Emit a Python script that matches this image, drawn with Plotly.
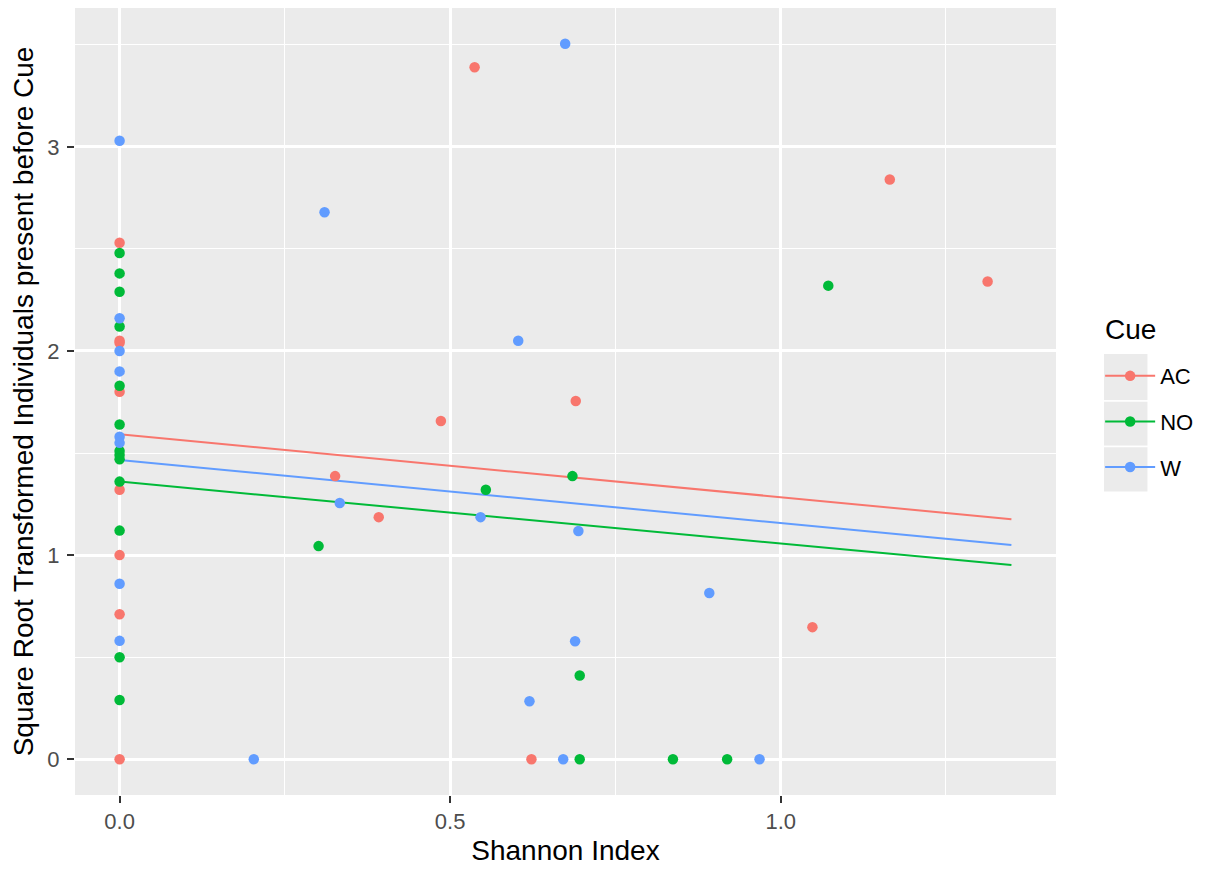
import plotly.graph_objects as go

# ---- data ----
cues = ["AC", "NO", "W"]
colors = {"AC": "#F8766D", "NO": "#00BA38", "W": "#619CFF"}

ac_x = [0, 0, 0, 0, 0, 0, 0, 0, 0.537, 1.165, 1.313, 0.690, 0.486, 0.326, 0.392, 1.048, 0.623]
ac_y = [2.53, 2.04, 1.80, 1.32, 1.00, 0.71, 0.00, 2.05, 3.39, 2.84, 2.34, 1.755, 1.657, 1.387, 1.186, 0.647, 0.00]

no_x = [0, 0, 0, 0, 0, 0, 0, 0, 0, 0, 0, 0, 0, 1.072, 0.685, 0.554, 0.301, 0.696, 0.696, 0.837, 0.919]
no_y = [2.48, 2.38, 2.29, 2.12, 1.83, 1.64, 1.51, 1.49, 1.47, 1.36, 1.12, 0.50, 0.29,
        2.32, 1.387, 1.32, 1.044, 0.41, 0.00, 0.00, 0.00]

w_x = [0, 0, 0, 0, 0, 0, 0, 0, 0.674, 0.310, 0.603, 0.333, 0.546, 0.694, 0.892, 0.689, 0.620, 0.203, 0.671, 0.968]
w_y = [3.03, 2.16, 2.00, 1.90, 1.58, 1.55, 0.86, 0.58, 3.505, 2.68, 2.05, 1.255, 1.186, 1.118, 0.814, 0.578, 0.284, 0.00, 0.00, 0.00]

# fitted lines (start, end)
fit_x = [0.0, 1.349]
ac_fit = [1.592, 1.176]
no_fit = [1.360, 0.951]
w_fit = [1.466, 1.049]

x_ticks = [0.0, 0.5, 1.0]
x_tick_labels = ["0.0", "0.5", "1.0"]
y_ticks = [0, 1, 2, 3]
y_tick_labels = ["0", "1", "2", "3"]

points = {"AC": (ac_x, ac_y), "NO": (no_x, no_y), "W": (w_x, w_y)}
fits = {"AC": ac_fit, "NO": no_fit, "W": w_fit}

FONT = "Liberation Sans, Arial, sans-serif"

fig = go.Figure()
for c in cues:
    fig.add_trace(go.Scatter(x=fit_x, y=fits[c], mode="lines",
                             line=dict(color=colors[c], width=2),
                             showlegend=False, hoverinfo="skip"))
for c in cues:
    xs, ys = points[c]
    fig.add_trace(go.Scatter(x=xs, y=ys, mode="markers",
                             marker=dict(color=colors[c], size=10.5, line=dict(width=0)),
                             showlegend=False, name=c))
# legend entries
for c in cues:
    fig.add_trace(go.Scatter(x=[None], y=[None], mode="lines+markers", name=c,
                             legendgroup=c,
                             line=dict(color=colors[c], width=2),
                             marker=dict(color=colors[c], size=10.5)))

all_x = ac_x + no_x + w_x + fit_x
all_y = ac_y + no_y + w_y + ac_fit + no_fit + w_fit
xmin, xmax = min(all_x), max(all_x)
ymin, ymax = min(all_y), max(all_y)
xpad = (xmax - xmin) * 0.05
ypad = (ymax - ymin) * 0.05

# legend key backgrounds (decoration, paper coords)
key_edges_y = [0.5612, 0.5007, 0.4427, 0.3847]
shapes = []
for i in range(3):
    shapes.append(dict(type="rect", xref="paper", yref="paper",
                       x0=1.0482, x1=1.0940, y0=key_edges_y[i + 1], y1=key_edges_y[i],
                       fillcolor="#EBEBEB", line=dict(color="white", width=1.5), layer="below"))

fig.update_layout(
    width=1198, height=863,
    margin=dict(l=67, r=150, t=0, b=76, autoexpand=False),
    paper_bgcolor="white",
    plot_bgcolor="#EBEBEB",
    font=dict(family=FONT, color="#4D4D4D"),
    shapes=shapes,
    annotations=[dict(text="Cue", xref="paper", yref="paper", x=1.0482, y=0.591,
                      xanchor="left", yanchor="middle", showarrow=False,
                      font=dict(size=28, color="black"))],
    legend=dict(
        font=dict(size=22, color="black"),
        x=1.045, xanchor="left", y=0.559, yanchor="top",
        traceorder="grouped", tracegroupgap=14,
        itemwidth=50,
        bgcolor="rgba(0,0,0,0)",
    ),
)
fig.update_xaxes(
    range=[xmin - xpad, xmax + xpad], automargin=False,
    tickvals=x_ticks, ticktext=x_tick_labels,
    tickfont=dict(size=22, color="#4D4D4D"),
    ticks="outside", ticklen=7, tickwidth=2, tickcolor="#333333",
    showgrid=True, gridcolor="white", gridwidth=2.5,
    minor=dict(dtick=0.25, tick0=0.25, showgrid=True, gridcolor="white", gridwidth=1.2, ticks=""),
    zeroline=False, showline=False,
    title=dict(text="Shannon Index", font=dict(size=28, color="black"), standoff=6),
)
fig.update_yaxes(
    range=[ymin - ypad, ymax + ypad], automargin=False,
    tickvals=y_ticks, ticktext=y_tick_labels,
    tickfont=dict(size=22, color="#4D4D4D"),
    ticks="outside", ticklen=7, tickwidth=2, tickcolor="#333333",
    ticklabelstandoff=3,
    showgrid=True, gridcolor="white", gridwidth=2.5,
    minor=dict(dtick=0.5, tick0=0.5, showgrid=True, gridcolor="white", gridwidth=1.2, ticks=""),
    zeroline=False, showline=False,
    title=dict(text="Square Root Transformed Individuals present before Cue",
               font=dict(size=28, color="black"), standoff=8),
)

fig.write_html("out.html")
